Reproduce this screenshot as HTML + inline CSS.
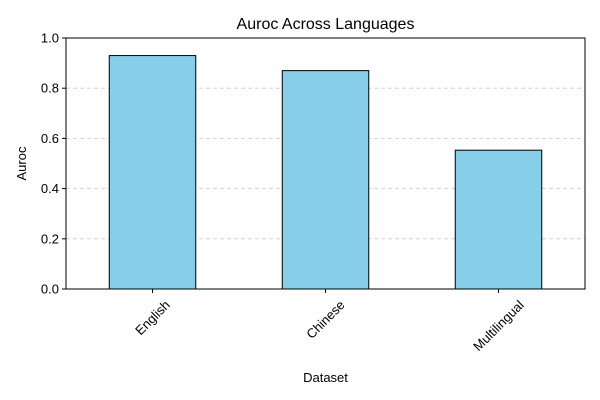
<!DOCTYPE html>
<html><head><meta charset="utf-8"><style>
body{margin:0;background:#fff;}
svg{display:block;font-family:"Liberation Sans","DejaVu Sans",sans-serif;}
</style></head><body>
<svg id="chart" width="600" height="400">
<rect width="600" height="400" fill="#fff"/>
<text x="325.5" y="29" text-anchor="middle" font-size="16">Auroc Across Languages</text>
<g id="grid"></g><g id="bars"></g><g id="yaxis"></g><g id="xaxis"></g>
<rect x="66" y="38" width="519" height="251" fill="none" stroke="#000" stroke-width="1"/>
<text x="325.5" y="382" text-anchor="middle" font-size="13">Dataset</text>
<text transform="translate(26,163.5) rotate(-90)" text-anchor="middle" font-size="13">Auroc</text>
</svg>
<script>
const categories=["English","Chinese","Multilingual"];
const values=[0.93,0.87,0.553];
const yTicks=[0,0.2,0.4,0.6,0.8,1.0];
const yTickLabels=["0.0","0.2","0.4","0.6","0.8","1.0"];
const NS="http://www.w3.org/2000/svg";
const L=66,R=585,T=38,B=289;
const y=v=>B-(v-0)/(1-0)*(B-T);
const x=i=>L+(i+0.5)/categories.length*(R-L);
const bw=0.5*(R-L)/categories.length;
function mk(tag,a,p){const e=document.createElementNS(NS,tag);for(const k in a)e.setAttribute(k,a[k]);p.appendChild(e);return e;}
const grid=document.getElementById('grid'),bars=document.getElementById('bars'),ya=document.getElementById('yaxis'),xa=document.getElementById('xaxis');
yTicks.forEach((t,i)=>{
 const yy=y(t);
 if(t>0&&t<1){const g=mk('line',{x1:L,x2:R,y1:yy,y2:yy,stroke:'#ccc','stroke-dasharray':'4,3','stroke-width':0.8},grid);
 
 }
 const tk=mk('line',{x1:L-4,x2:L,y1:yy,y2:yy,stroke:'#000'},ya);
 
 
 const tx=mk('text',{x:L-7,y:yy+4.5,'text-anchor':'end','font-size':13},ya);tx.textContent=yTickLabels[i];
 
 
});
categories.forEach((c,i)=>{
 const cx=x(i);
 const r=mk('rect',{x:cx-bw/2,y:y(values[i]),width:bw,height:B-y(values[i]),fill:'#87ceeb',stroke:'#000','stroke-width':1},bars);
 
 
 const tk=mk('line',{x1:cx,x2:cx,y1:B,y2:B+4,stroke:'#000'},xa);
 
 
 const tx=mk('text',{x:cx,y:0,'text-anchor':'middle','font-size':13},xa);tx.textContent=c;
 
 
 const w=tx.getComputedTextLength();
 const cy=B+9+(w+13)*0.7071/2;
 tx.setAttribute('y',cy+4.5);
 tx.setAttribute('transform',`rotate(-45 ${cx} ${cy})`);
});
</script>
</body></html>
